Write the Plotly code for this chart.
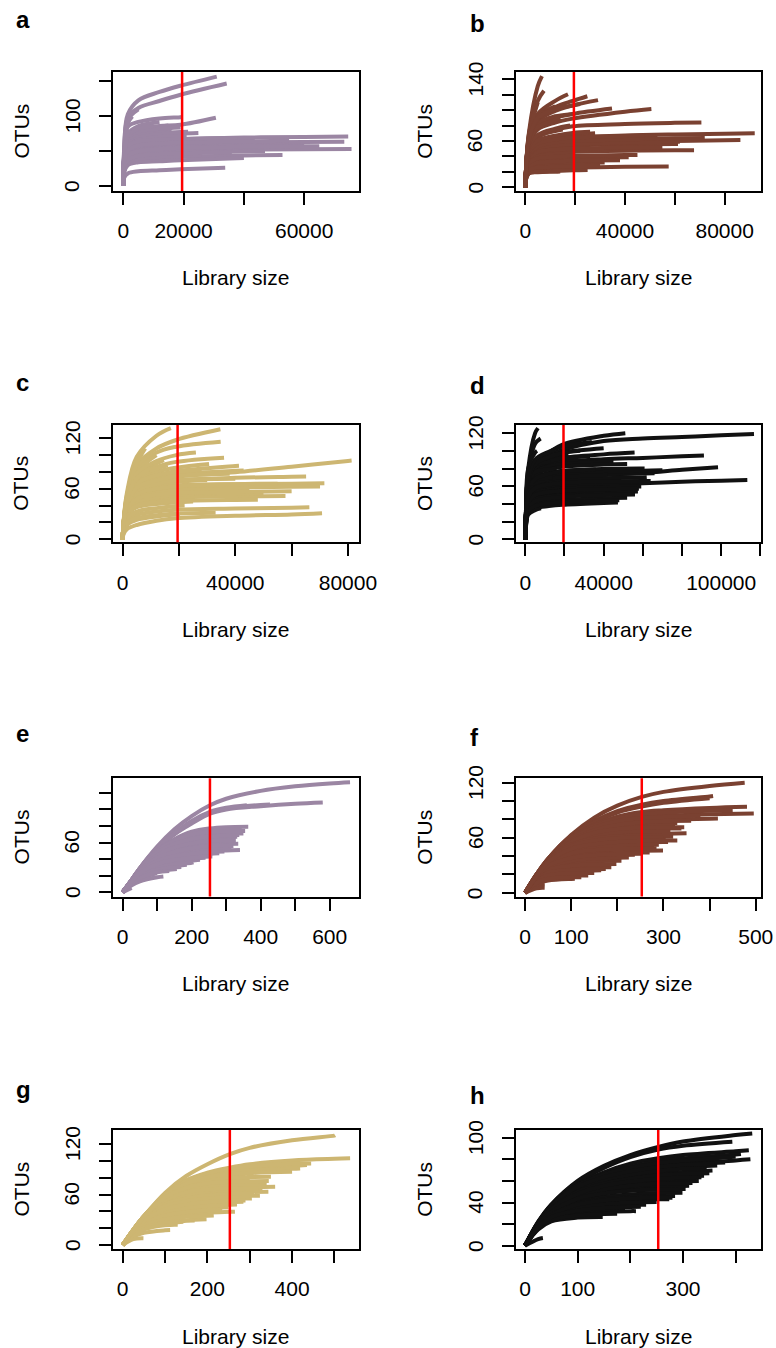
import plotly.graph_objects as go

W, H = 776, 1348

TOP_GRID = [0, 300, 1500, 5000, 12000, 19000, 40000, 60000, 80000, 100000]
BOT_GRID = [0, 25, 50, 100, 150, 200, 253, 300, 400, 500, 600]

# each curve: (final library size, final OTUs, OTUs read at grid points below the final size)
A_CURVES = [
    (31000, 157, [0, 55, 103, 123, 135, 144]),
    (34300, 147, [0, 50, 98, 112, 122, 131]),
    (19300, 99, [0, 45, 85, 92, 97, 98.7]),
    (30700, 98, [0, 42, 75, 82, 86, 88]),
    (74600, 71, [0, 35, 55, 62, 65, 67, 69.5, 70.3]),
    (73300, 63.6, [0, 30, 50, 57, 59.5, 61, 62.5, 63.1]),
    (75700, 53, [0, 25, 40, 46, 48.5, 50, 52, 52.6]),
    (52800, 44.5, [0, 22, 35, 39, 41, 42, 43.8]),
    (43600, 68.4, [0, 32, 52, 60, 63.5, 65, 68]),
    (31700, 62, [0, 28, 46, 53, 56, 58]),
    (40000, 40, [0, 20, 30, 34, 35.5, 37]),
    (33800, 26.3, [0, 12, 18, 21, 22.5, 24]),
    (24900, 76, [0, 38, 62, 70, 73, 75]),
    (15000, 87, [0, 40, 68, 80, 85]),
    (8000, 88, [0, 40, 70, 82]),
    (18000, 70, [0, 33, 55, 63, 68]),
    (17000, 62, [0, 30, 48, 55, 60]),
    (20000, 55, [0, 26, 42, 49, 53, 54.5]),
    (22000, 47, [0, 23, 37, 42, 45, 46.5]),
    (21000, 73, [0, 36, 58, 66, 71, 72.5]),
    (60000, 59, [0, 27, 44, 51, 54, 56, 58]),
    (38000, 69, [0, 34, 57, 64, 66.5, 67.5]),
    (47000, 50, [0, 24, 38, 44, 47, 48, 49.5]),
    (12000, 92, [0, 42, 75, 86]),
    (5000, 110, [0, 48, 95]),
    (19800, 39.5, [0, 21, 32, 36, 38, 39.2]),
    (26000, 44, [0, 22, 34, 39, 41.5, 43]),
    (29000, 52, [0, 25, 42, 47, 49.5, 51]),
    (19500, 63, [0, 30, 50, 57, 61, 63]),
    (21500, 78, [0, 39, 64, 72, 76, 77.5]),
    (16000, 81, [0, 40, 66, 75, 80]),
    (19000, 84, [0, 41, 70, 78, 82]),
    (10000, 86, [0, 42, 72, 82]),
    (65000, 57, [0, 26, 43, 50, 53, 55, 56.3, 56.9]),
    (3000, 100, [0, 45, 90]),
    (2000, 80, [0, 40, 75]),
    (36000, 48, [0, 23, 37, 43, 46, 47]),
    (55000, 65, [0, 31, 51, 58, 61, 62.5, 64]),
]

B_CURVES = [
    (6690, 144, [0, 25, 72, 131]),
    (7490, 125, [0, 25, 70, 112]),
    (17130, 120.5, [0, 24, 65, 95, 112]),
    (24890, 118, [0, 24, 62, 90, 104, 112]),
    (29170, 113, [0, 23, 60, 86, 99, 106]),
    (34790, 102, [0, 22, 58, 80, 90, 95]),
    (50580, 101.5, [0, 22, 56, 75, 84, 89, 98]),
    (70650, 84, [0, 20, 50, 65, 74, 79, 82, 83.5]),
    (92050, 70, [0, 20, 45, 56, 61, 64, 67, 68.5, 69.5]),
    (86300, 61.3, [0, 18, 40, 50, 55, 57, 59, 60, 61]),
    (61280, 56, [0, 18, 40, 49, 52, 54, 55.5, 56]),
    (67700, 48, [0, 16, 35, 42, 45, 46, 47.5, 48]),
    (41480, 39, [0, 15, 30, 35, 37, 38, 39]),
    (31840, 32, [0, 14, 26, 29, 30.5, 31.5]),
    (57530, 27, [0, 12, 20, 22, 24, 25.5, 26.5]),
    (14000, 20.5, [0, 10, 18, 19.5, 20.2]),
    (53000, 66, [0, 19, 44, 54, 59, 62, 64.5]),
    (40000, 62, [0, 19, 43, 52, 57, 60]),
    (28000, 70, [0, 20, 47, 59, 65, 68]),
    (45000, 58, [0, 18, 41, 50, 54, 56, 57.5]),
    (35000, 50, [0, 17, 37, 44, 47, 48.5]),
    (20000, 45, [0, 16, 34, 40, 43, 44.5]),
    (15000, 75, [0, 21, 52, 66, 73]),
    (10000, 85, [0, 22, 58, 78]),
    (20000, 95.5, [0, 23, 60, 83, 92, 95]),
    (12000, 105, [0, 24, 63, 92]),
    (25000, 22.5, [0, 11, 18.5, 20, 21, 22]),
    (30000, 28, [0, 13, 23, 25.5, 26.5, 27.5]),
    (38000, 35, [0, 14, 28, 32, 33.5, 34.5]),
    (45000, 42, [0, 15, 32, 37.5, 39.5, 41, 41.8]),
    (55000, 52, [0, 17, 38, 46, 49, 50, 51.5]),
    (62000, 59, [0, 18, 41, 51, 54.5, 56, 58, 58.9]),
    (72000, 64, [0, 19, 43, 53, 58, 60, 62, 63.4]),
    (48000, 67, [0, 20, 46, 57, 62, 64.5, 66.5]),
    (26000, 72, [0, 21, 49, 61, 67, 70.5]),
    (18000, 80, [0, 21, 53, 68, 76]),
    (14000, 90, [0, 22, 57, 78, 87]),
    (9000, 100, [0, 23, 62, 88]),
    (5000, 110, [0, 24, 68]),
    (22000, 108, [0, 24, 63, 90, 101, 106]),
]

C_CURVES = [
    (17110, 132, [0, 20, 55, 98, 123]),
    (34700, 130.7, [0, 20, 52, 88, 108, 118]),
    (34800, 116, [0, 19, 50, 84, 103, 110]),
    (14630, 94, [0, 18, 45, 75, 90]),
    (30680, 89.5, [0, 18, 44, 70, 80, 85]),
    (41300, 87.5, [0, 18, 43, 66, 76, 81, 87.2]),
    (42950, 81.6, [0, 17, 42, 63, 72, 77, 81.4]),
    (65140, 74.5, [0, 17, 40, 58, 66, 70, 73, 74.2]),
    (81300, 93.5, [0, 17, 40, 58, 68, 74, 79.5, 86.3, 93.1]),
    (71630, 66.5, [0, 16, 38, 54, 61, 64, 65.5, 66]),
    (70090, 62.6, [0, 15, 36, 50, 57, 60, 61.5, 62.3]),
    (57820, 51.5, [0, 13, 30, 42, 47, 49.5, 51]),
    (66300, 38, [0, 10, 22, 29, 33, 35, 36.5, 37.5]),
    (70800, 31, [0, 6, 12, 17, 22, 25, 28, 29.5]),
    (20300, 29.7, [0, 8, 17, 23, 27, 29.4]),
    (30000, 70, [0, 17, 40, 57, 64, 68]),
    (45000, 60, [0, 16, 36, 50, 55, 58, 59.8]),
    (50000, 55, [0, 14, 32, 45, 50, 53, 54.5]),
    (25000, 45, [0, 12, 28, 38, 42, 44]),
    (55000, 66, [0, 16, 38, 54, 60, 63, 65.5]),
    (40000, 72, [0, 17, 40, 58, 66, 70]),
    (12000, 100, [0, 19, 47, 80]),
    (8000, 108, [0, 19, 50, 90]),
    (20000, 80, [0, 17, 42, 62, 73, 78]),
    (36000, 97, [0, 19, 47, 74, 86, 92]),
    (26000, 103, [0, 19, 48, 78, 93, 100]),
    (22000, 40, [0, 11, 25, 33, 37, 39.5]),
    (48000, 47, [0, 13, 30, 40, 44, 45.5, 46.8]),
    (60000, 57, [0, 15, 35, 48, 53, 55, 56.3]),
    (33000, 31.5, [0, 9, 19, 25, 28.5, 30.5]),
    (16000, 88, [0, 18, 45, 72, 84]),
    (28000, 83, [0, 18, 44, 66, 76, 80]),
    (10000, 85, [0, 18, 44, 72]),
    (38000, 78, [0, 17, 41, 61, 70, 75]),
    (4000, 70, [0, 18, 45]),
]

D_CURVES = [
    (6470, 125.7, [0, 30, 80, 120]),
    (7830, 114, [0, 28, 75, 108]),
    (51060, 120, [0, 28, 68, 88, 98, 107, 117]),
    (116760, 119, [0, 27, 66, 86, 95, 101, 111, 113.9, 115.7, 117.5]),
    (55800, 98, [0, 26, 62, 80, 88, 92, 96]),
    (91200, 94.7, [0, 25, 60, 76, 83, 87, 90.5, 92, 93.8]),
    (98400, 81.5, [0, 22, 52, 63, 67, 70, 73, 75, 78.5]),
    (113350, 67, [0, 20, 45, 54, 57.5, 59.5, 62, 63.4, 65, 66.3]),
    (66000, 74.7, [0, 22, 52, 64, 69, 71, 73.5, 74.5]),
    (60900, 80, [0, 24, 56, 69, 74, 77, 79.5, 80]),
    (57500, 54, [0, 18, 40, 47, 50, 51.5, 53]),
    (47300, 41.5, [0, 14, 30, 35, 37.5, 39, 41]),
    (37100, 45, [0, 16, 34, 39.5, 42, 43.5]),
    (59200, 59.6, [0, 19, 44, 52, 55.5, 57, 58.8]),
    (49000, 69, [0, 22, 50, 60, 64, 66, 68.5]),
    (26900, 90, [0, 26, 63, 80, 86, 88.5]),
    (30000, 85, [0, 25, 60, 75, 81, 83.5]),
    (20000, 78, [0, 24, 57, 70, 75, 77.5]),
    (25000, 65, [0, 21, 48, 58, 62, 64]),
    (15000, 50, [0, 17, 38, 45, 48.5]),
    (10000, 95, [0, 28, 70, 88]),
    (45000, 88, [0, 25, 60, 76, 82, 85, 87.7]),
    (40000, 103, [0, 26, 64, 84, 93, 98]),
    (35000, 60, [0, 20, 45, 53, 56, 58]),
    (8000, 35, [0, 13, 28, 33]),
    (22000, 96, [0, 26, 63, 82, 90, 94.5]),
    (33000, 94, [0, 26, 62, 81, 88, 91.5]),
    (52000, 85, [0, 24, 58, 73, 79, 82, 84.5]),
    (70000, 78, [0, 23, 54, 66, 71, 73.5, 76, 77.5]),
    (62000, 70, [0, 21, 50, 61, 65, 67, 69, 69.8]),
    (55000, 64, [0, 20, 47, 57, 60.5, 62, 63.5]),
    (44000, 56, [0, 18, 42, 50, 53, 54.5, 55.8]),
    (30000, 50, [0, 17, 38, 45, 48, 49.3]),
    (24000, 47, [0, 16, 36, 42.5, 45, 46.5]),
    (42000, 73, [0, 22, 52, 63, 68, 70.5, 72.8]),
    (18000, 55, [0, 19, 43, 50.5, 54]),
    (12000, 62, [0, 21, 50, 59]),
    (14000, 70, [0, 24, 58, 67, 69.5]),
    (16000, 80, [0, 26, 65, 76, 79]),
    (13000, 88, [0, 28, 70, 84, 87.5]),
    (36000, 79, [0, 23, 55, 68, 74, 77]),
    (28000, 100, [0, 27, 65, 85, 93, 97.5]),
    (34000, 110, [0, 28, 70, 90, 99, 105]),
    (6000, 100, [0, 30, 80, 98]),
    (4000, 60, [0, 25, 52]),
    (52000, 47, [0, 15, 33, 39, 42.5, 44.5, 46.5]),
    (56000, 50.5, [0, 16, 36, 43, 46.5, 48, 50]),
    (48000, 44, [0, 15, 32, 37.5, 40.5, 42, 43.7]),
    (58000, 57, [0, 18, 42, 50, 53.5, 55, 56.5]),
    (64000, 66, [0, 21, 48, 58, 62, 64, 65.5, 66]),
]

E_CURVES = [
    (659, 133, [0, 14, 29, 55, 76, 92, 105, 113, 122.5, 128, 131.5]),
    (580, 108.5, [0, 14, 29, 53, 70, 83, 95, 100, 104, 107]),
    (427, 106, [0, 14, 29, 53, 70, 85, 96, 101, 105.5]),
    (360, 105, [0, 14, 29, 53, 71, 86, 97, 102]),
    (364, 79, [0, 14, 28, 51, 64, 73, 77, 78.5]),
    (330, 73.5, [0, 14, 28, 50, 62, 69, 72, 73]),
    (332, 67, [0, 13, 27, 46, 56, 62, 65.5, 66.5]),
    (326, 61.5, [0, 13, 26, 43, 52, 57, 60, 61]),
    (321, 55.5, [0, 13, 25, 40, 47, 51, 54, 55]),
    (340, 51, [0, 13, 24, 37, 43, 47, 49.5, 50.5]),
    (251, 44, [0, 12, 23, 34, 39, 42]),
    (224, 39, [0, 12, 22, 31, 35, 38]),
    (186, 33, [0, 11, 20, 28, 31.5]),
    (157, 28, [0, 10, 18, 25, 27.7]),
    (99, 23, [0, 10, 16]),
    (118, 19, [0, 8, 13, 18]),
    (26, 5, [0]),
    (310, 64, [0, 13, 27, 45, 55, 60, 63, 64]),
    (290, 70, [0, 14, 28, 49, 60, 66, 69]),
    (345, 76, [0, 14, 28, 50, 63, 71, 74.5, 75.5]),
    (300, 58, [0, 13, 26, 42, 50, 54.5, 57]),
    (350, 71, [0, 14, 28, 50, 61, 67, 70, 70.8]),
    (335, 58.5, [0, 13, 26, 41, 49, 54, 57, 58.2]),
    (315, 52.5, [0, 13, 25, 39, 45.5, 49.5, 52, 52.4]),
    (280, 47, [0, 12, 24, 36, 41.5, 44.5, 46.5]),
    (240, 41.5, [0, 12, 22.5, 33, 37, 40]),
    (205, 36, [0, 11, 21, 30, 33.5, 35.5]),
    (170, 30.5, [0, 10, 19, 27, 30]),
    (135, 25.5, [0, 10, 17, 24]),
    (355, 74, [0, 14, 28, 50, 62, 70, 73, 73.8]),
    (338, 69, [0, 14, 27.5, 48, 58, 64, 67.5, 68.5]),
    (328, 63, [0, 13, 26.5, 44.5, 54, 59, 62, 62.8]),
    (318, 57, [0, 13, 25.5, 41.5, 48.5, 53, 56, 56.8]),
    (295, 49, [0, 12.5, 24.5, 37.5, 43.5, 46.5, 48.5]),
    (260, 43, [0, 12, 23, 34, 39, 41.5, 43]),
]

F_CURVES = [
    (476, 120, [0, 20, 37, 63, 82, 95, 104.5, 110, 116.5]),
    (407.5, 105.5, [0, 20, 37, 62, 78, 89, 96, 100, 105]),
    (400, 103, [0, 20, 37, 62, 77, 87.5, 94, 98]),
    (481, 93.8, [0, 20, 36, 60, 74, 83, 88, 90, 92.5]),
    (495.7, 86.5, [0, 19, 36, 59, 72, 79, 83, 84, 85.5]),
    (418, 81, [0, 19, 35, 57, 69, 75, 78.5, 79.5, 80.8]),
    (339, 70, [0, 19, 35, 55, 64, 68, 69.5, 70]),
    (321, 61, [0, 18, 34, 51, 57, 59.5, 60.5, 61]),
    (310, 55.5, [0, 18, 33, 47, 52, 54, 55, 55.5]),
    (299, 46, [0, 17, 30, 40, 43.5, 45, 45.8]),
    (238, 41.6, [0, 17, 29, 37, 40, 41.3]),
    (209, 35, [0, 16, 27, 32.5, 34.5, 35]),
    (187, 28, [0, 15, 23, 26.5, 27.8]),
    (165, 24.5, [0, 14, 20.5, 23.5, 24.4]),
    (137, 19, [0, 12, 17, 18.8]),
    (108, 15.3, [0, 10, 13.5, 15.2]),
    (42.6, 10, [0, 8]),
    (42.6, 5.5, [0, 5]),
    (330, 76, [0, 19, 35, 56, 67, 72.5, 75, 76]),
    (350, 65, [0, 18, 34, 53, 60.5, 63, 64, 64.5]),
    (280, 50, [0, 17, 31, 44, 48, 49.5, 50]),
    (260, 58, [0, 18, 33, 49, 55, 57, 58]),
    (300, 66, [0, 19, 34, 54, 62, 65, 66]),
    (450, 90, [0, 20, 36, 60, 73, 81, 85.5, 87.5, 89.5]),
    (325, 73, [0, 19, 35, 56, 66, 70.5, 72.5, 73]),
    (315, 67.5, [0, 19, 35, 54, 62, 66, 67, 67.4]),
    (305, 58.5, [0, 18, 33, 49, 54.5, 57, 58, 58.4]),
    (290, 52.5, [0, 18, 32, 45.5, 49.5, 51.5, 52.3]),
    (270, 44, [0, 17, 30, 39.5, 42.5, 43.5, 44]),
    (225, 38.5, [0, 16, 28, 35, 37.5, 38.3]),
    (198, 31.5, [0, 15, 25, 29.5, 31]),
    (175, 26, [0, 14, 22, 25, 25.8]),
    (150, 21.5, [0, 13, 19, 21.2]),
    (122, 17, [0, 11, 15.5, 16.9]),
    (380, 84, [0, 19, 36, 59, 71, 78, 81.5, 82.7]),
    (360, 78.5, [0, 19, 35, 57, 68, 74, 77, 78.2]),
    (345, 71.5, [0, 19, 35, 55.5, 65.5, 69.5, 71, 71.4]),
    (312, 63, [0, 18.5, 34.5, 52.5, 59, 61.5, 62.6, 63]),
    (300, 60.5, [0, 18.5, 34, 51, 57, 59.5, 60.4]),
    (285, 48.5, [0, 17.5, 31, 43, 46.5, 47.8, 48.4]),
    (255, 42.5, [0, 17, 29.5, 38, 41, 42.2, 42.5]),
    (330, 57, [0, 18, 33.5, 48, 53, 55.5, 56.5, 56.9]),
]

G_CURVES = [
    (501.6, 130.3, [0, 18, 34, 62, 82, 96, 108, 115.5, 124.5, 130]),
    (537, 103, [0, 18, 34, 60, 77, 86, 92, 96, 100.5, 102.5]),
    (435, 95, [0, 18, 34, 59, 75, 84, 89, 91.5, 94]),
    (419, 91, [0, 18, 33, 58, 73, 81, 86, 88.5, 90.5]),
    (445, 97, [0, 18, 34, 60, 76, 85, 90.5, 93.5, 96.5]),
    (316.5, 74, [0, 18, 33, 56, 67, 72, 73.5, 74]),
    (360, 69.3, [0, 17, 32, 53, 62, 66, 68, 68.8]),
    (344, 63.4, [0, 17, 31, 50, 57, 60.5, 62, 63]),
    (324, 58.6, [0, 16, 30, 47, 53, 56, 57.8, 58.4]),
    (305, 55.4, [0, 16, 29, 44, 50, 53, 54.8, 55.3]),
    (285, 51.5, [0, 15, 28, 41, 46.5, 49.5, 51]),
    (265, 39.6, [0, 14, 24, 33, 36.5, 38.5, 39.4]),
    (198, 30.5, [0, 13, 21, 27, 29.5]),
    (143, 27.7, [0, 12, 20, 25.5]),
    (112, 17.8, [0, 10, 14.5, 17.5]),
    (49, 8, [0, 7]),
    (250, 45, [0, 15, 26, 37, 41.5, 44]),
    (330, 66, [0, 17, 32, 52, 60, 64, 65.5, 66]),
    (300, 78, [0, 18, 33, 57, 69, 75, 77.5]),
    (290, 84, [0, 18, 34, 58, 72, 79, 83]),
    (280, 70, [0, 17, 32, 54, 64, 68.5, 70]),
    (270, 48, [0, 15, 27, 39, 44, 46.5, 47.8]),
    (235, 42, [0, 14, 25, 35, 39, 41]),
    (215, 35, [0, 13.5, 23, 30.5, 33.5, 34.7]),
    (170, 29, [0, 12.5, 20.5, 26.5, 28.7]),
    (130, 24, [0, 11.5, 18.5, 23.5]),
    (340, 72, [0, 17.5, 33, 55, 65, 70, 71.5, 71.9]),
    (310, 61, [0, 16.5, 30.5, 48.5, 55, 58.5, 60.5, 61]),
    (350, 81, [0, 18, 34, 58, 71, 77.5, 80, 80.8]),
    (400, 87, [0, 18, 34, 59, 73, 80.5, 84, 85.5]),
    (320, 67.5, [0, 17, 32, 53.5, 62.5, 66, 67.2, 67.5]),
    (300, 57, [0, 16, 30, 46, 52, 55, 56.8]),
    (290, 53, [0, 15.5, 28.5, 42.5, 48, 51, 52.7]),
    (345, 76, [0, 18, 33.5, 56.5, 68, 73.5, 75.2, 75.8]),
]

H_CURVES = [
    (431.5, 104, [0, 22, 38, 60, 74, 84, 91.5, 96.5, 102.5]),
    (393.7, 96.2, [0, 22, 38, 59, 72, 82, 89, 92.5]),
    (425, 88.4, [0, 21, 37, 57, 68, 76, 81, 84, 87.5]),
    (428, 80, [0, 21, 36, 55, 64, 70, 74, 76.5, 79]),
    (410, 85, [0, 21, 37, 56, 66, 73, 78, 81, 84.5]),
    (365, 74.3, [0, 21, 36, 53, 62, 67, 70.5, 72.5]),
    (356, 69.6, [0, 20, 35, 51, 59, 63.5, 66.5, 68.3]),
    (340, 64.9, [0, 20, 34, 49, 56, 60, 62.5, 64]),
    (311.7, 55.5, [0, 19, 32, 45, 50.5, 53.5, 55, 55.4]),
    (299, 49, [0, 18, 30, 41, 45.5, 47.5, 48.7]),
    (274, 43, [0, 17, 28, 37, 40.5, 42.3, 43]),
    (210.7, 32, [0, 16, 25, 30, 31.5, 32]),
    (147.6, 26.6, [0, 15, 22.5, 26]),
    (34, 7, [0, 6]),
    (380, 77, [0, 21, 36, 54, 63, 68.5, 72.5, 74.8]),
    (330, 60, [0, 19, 33, 47, 53.5, 57, 59]),
    (260, 52, [0, 18, 31, 43, 48.5, 51]),
    (230, 38, [0, 17, 27, 34, 36.5, 37.8]),
    (290, 70, [0, 20, 35, 52, 60, 65, 68.5]),
    (345, 72, [0, 21, 36, 53, 61, 66, 69.5, 71.3]),
    (325, 62.5, [0, 20, 34, 48.5, 55, 58.5, 61, 62.3]),
    (318, 58, [0, 19, 33, 46, 52, 55.5, 57.5, 57.9]),
    (285, 46, [0, 18, 29, 39, 43, 45, 45.8]),
    (250, 40.5, [0, 17, 27.5, 35.5, 38.5, 40]),
    (190, 34.5, [0, 16.5, 26, 31.5, 33.8]),
    (175, 29.5, [0, 16, 24, 28, 29.3]),
    (400, 82.5, [0, 21, 37, 56, 66, 72, 76.5, 79]),
    (360, 76, [0, 21, 36.5, 54.5, 63.5, 69, 73, 75]),
    (350, 67, [0, 20, 34.5, 50, 57.5, 62, 65, 66.4]),
    (335, 63.5, [0, 20, 34, 48, 55.5, 59.5, 62, 63]),
    (305, 52.5, [0, 18.5, 31, 43.5, 48.5, 51, 52.3]),
    (280, 44.5, [0, 17.5, 28.5, 38, 42, 44, 44.5]),
    (220, 36, [0, 16.5, 26.5, 32.5, 35, 35.9]),
]

RAREFY_TOP = 19500
RAREFY_BOT = 253

PANEL_LETTERS = ["a", "b", "c", "d", "e", "f", "g", "h"]
X_TITLE = "Library size"
Y_TITLE = "OTUs"

A_XTICKS = [0, 20000, 40000, 60000];              A_XTEXT = ["0", "20000", "", "60000"]
A_YTICKS = [0, 50, 100, 150];                     A_YTEXT = ["0", "", "100", ""]
B_XTICKS = [0, 20000, 40000, 60000, 80000];       B_XTEXT = ["0", "", "40000", "", "80000"]
B_YTICKS = [0, 20, 40, 60, 80, 100, 120, 140];    B_YTEXT = ["0", "", "", "60", "", "", "", "140"]
C_XTICKS = [0, 20000, 40000, 60000, 80000];       C_XTEXT = ["0", "", "40000", "", "80000"]
C_YTICKS = [0, 20, 40, 60, 80, 100, 120];         C_YTEXT = ["0", "", "", "60", "", "", "120"]
D_XTICKS = [0, 20000, 40000, 60000, 80000, 100000, 120000]; D_XTEXT = ["0", "", "40000", "", "", "100000", ""]
D_YTICKS = [0, 20, 40, 60, 80, 100, 120];         D_YTEXT = ["0", "", "", "60", "", "", "120"]
E_XTICKS = [0, 100, 200, 300, 400, 500, 600];     E_XTEXT = ["0", "", "200", "", "400", "", "600"]
E_YTICKS = [0, 20, 40, 60, 80, 100, 120];         E_YTEXT = ["0", "", "", "60", "", "", ""]
F_XTICKS = [0, 100, 200, 300, 400, 500];          F_XTEXT = ["0", "100", "", "300", "", "500"]
F_YTICKS = [0, 20, 40, 60, 80, 100, 120];         F_YTEXT = ["0", "", "", "60", "", "", "120"]
G_XTICKS = [0, 100, 200, 300, 400, 500];          G_XTEXT = ["0", "", "200", "", "400", ""]
G_YTICKS = [0, 20, 40, 60, 80, 100, 120];         G_YTEXT = ["0", "", "", "60", "", "", "120"]
H_XTICKS = [0, 100, 200, 300, 400];               H_XTEXT = ["0", "100", "", "300", ""]
H_YTICKS = [0, 20, 40, 60, 80, 100];              H_YTEXT = ["0", "", "40", "", "", "100"]

PURPLE, BROWN, TAN, BLACK = "#9B86A3", "#7A4131", "#CDB672", "#111111"

# ---------------- layout (pixels) ----------------
COL_PX = [(113, 359), (516.3, 761.3)]
ROW_PX = [(72, 191), (425, 542.3), (778.3, 896.5), (1130, 1249)]
LETTER_BASE = [(29, 33), (392, 395), (743, 747), (1099, 1105)]

panels = [
    dict(curves=A_CURVES, grid=TOP_GRID, color=PURPLE, depth=RAREFY_TOP, xr=[-3416, 78176], yr=[-7.2, 163.6], xt=A_XTICKS, xtt=A_XTEXT, yt=A_YTICKS, ytt=A_YTEXT),
    dict(curves=B_CURVES, grid=TOP_GRID, color=BROWN, depth=RAREFY_TOP, xr=[-3611, 94684], yr=[-4.8, 149.4], xt=B_XTICKS, xtt=B_XTEXT, yt=B_YTICKS, ytt=B_YTEXT),
    dict(curves=C_CURVES, grid=TOP_GRID, color=TAN, depth=RAREFY_TOP, xr=[-3440, 83925], yr=[-3.6, 135.8], xt=C_XTICKS, xtt=C_XTEXT, yt=C_YTICKS, ytt=C_YTEXT),
    dict(curves=D_CURVES, grid=TOP_GRID, color=BLACK, depth=RAREFY_TOP, xr=[-4596, 120490], yr=[-3.4, 129.2], xt=D_XTICKS, xtt=D_XTEXT, yt=D_YTICKS, ytt=D_YTEXT),
    dict(curves=E_CURVES, grid=BOT_GRID, color=PURPLE, depth=RAREFY_BOT, xr=[-28, 685], yr=[-5.3, 137.7], xt=E_XTICKS, xtt=E_XTEXT, yt=E_YTICKS, ytt=E_YTEXT),
    dict(curves=F_CURVES, grid=BOT_GRID, color=BROWN, depth=RAREFY_BOT, xr=[-18.9, 512], yr=[-4.0, 124.8], xt=F_XTICKS, xtt=F_XTEXT, yt=F_YTICKS, ytt=F_YTEXT),
    dict(curves=G_CURVES, grid=BOT_GRID, color=TAN, depth=RAREFY_BOT, xr=[-22.9, 558], yr=[-4.75, 136.7], xt=G_XTICKS, xtt=G_XTEXT, yt=G_YTICKS, ytt=G_YTEXT),
    dict(curves=H_CURVES, grid=BOT_GRID, color=BLACK, depth=RAREFY_BOT, xr=[-16.5, 448.7], yr=[-3.1, 107.2], xt=H_XTICKS, xtt=H_XTEXT, yt=H_YTICKS, ytt=H_YTEXT),
]

FONT = "Liberation Sans, Arial, Helvetica, sans-serif"
fig = go.Figure()
layout = {}
annotations = []
shapes = []

for i, p in enumerate(panels):
    n = i + 1
    row, col = divmod(i, 2)
    xa = "x" if n == 1 else f"x{n}"
    ya = "y" if n == 1 else f"y{n}"
    for end_x, end_y, ys in p["curves"]:
        xs = [g for g in p["grid"] if g < end_x][:len(ys)]
        yv = list(ys[:len(xs)])
        xs = xs + [end_x]
        yv = yv + [end_y]
        fig.add_trace(go.Scatter(
            x=xs, y=yv, mode="lines", xaxis=xa, yaxis=ya,
            line=dict(color=p["color"], width=4, shape="spline", smoothing=1.0),
            showlegend=False, hoverinfo="skip"))
    shapes.append(dict(type="line", xref=xa, yref=f"{ya} domain", x0=p["depth"], x1=p["depth"],
                       y0=0, y1=1, line=dict(color="#FF0000", width=2.5), layer="above"))
    c0, c1 = COL_PX[col]
    r0, r1 = ROW_PX[row]
    common = dict(showline=True, mirror=True, linecolor="black", linewidth=2,
                  ticks="outside", ticklen=12, tickwidth=2, tickcolor="black",
                  showgrid=False, zeroline=False, tickmode="array", automargin=False,
                  tickfont=dict(size=21, color="black", family=FONT))
    layout["xaxis" if n == 1 else f"xaxis{n}"] = dict(
        domain=[c0 / W, c1 / W], range=p["xr"], anchor=ya,
        tickvals=p["xt"], ticktext=p["xtt"], tickangle=0, ticklabelstandoff=8, **common)
    layout["yaxis" if n == 1 else f"yaxis{n}"] = dict(
        domain=[1 - r1 / H, 1 - r0 / H], range=p["yr"], anchor=xa,
        tickvals=p["yt"], ticktext=p["ytt"], showticklabels=False, **common)
    # rotated y tick labels (R style, parallel to the axis)
    for val, txt in zip(p["yt"], p["ytt"]):
        if txt:
            annotations.append(dict(text=txt, xref="paper", yref=ya, x=(c0 - 41) / W, y=val,
                                    textangle=-90, xanchor="center", yanchor="middle",
                                    showarrow=False, font=dict(size=21, color="black", family=FONT)))
    annotations.append(dict(text=f"<b>{PANEL_LETTERS[i]}</b>", xref="paper", yref="paper",
                            x=(14 if col == 0 else 468) / W, y=1 - LETTER_BASE[row][col] / H,
                            xanchor="left", yanchor="bottom", showarrow=False,
                            font=dict(size=24, color="black", family=FONT), yshift=-6))
    annotations.append(dict(text=X_TITLE, xref="paper", yref="paper",
                            x=(c0 + c1) / 2 / W, y=1 - (r1 + 87) / H,
                            xanchor="center", yanchor="middle", showarrow=False,
                            font=dict(size=21, color="black", family=FONT)))
    annotations.append(dict(text=Y_TITLE, xref="paper", yref="paper",
                            x=(c0 - 92) / W, y=1 - (r0 + r1) / 2 / H, textangle=-90,
                            xanchor="center", yanchor="middle", showarrow=False,
                            font=dict(size=21, color="black", family=FONT)))

fig.update_layout(
    width=W, height=H, autosize=False,
    margin=dict(l=0, r=0, t=0, b=0, pad=0, autoexpand=False),
    paper_bgcolor="white", plot_bgcolor="white",
    font=dict(family=FONT, color="black"),
    annotations=annotations, shapes=shapes, **layout)

fig.write_html("out.html", config={"responsive": False, "displayModeBar": False})
